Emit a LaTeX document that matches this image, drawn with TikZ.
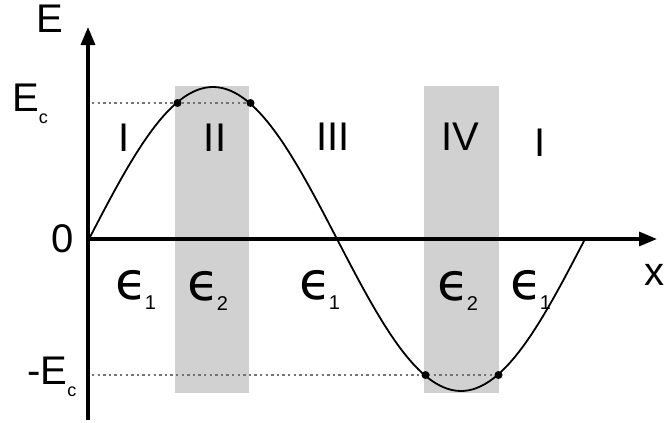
\documentclass[tikz,border=0pt]{standalone}
\usepackage{fontspec}
\setmainfont{Liberation Sans}
\newfontfamily\epsfont{DejaVu Sans}
\usepackage{tikz}
\usetikzlibrary{arrows.meta}
\newcommand{\eps}[1]{{\epsfont\fontsize{26}{28}\selectfont ϵ}\kern-1.5pt\raisebox{-5pt}{\fontsize{10}{12}\selectfont #1}}
\newcommand{\Ec}{E\raisebox{-6pt}{\fontsize{9}{11}\selectfont c}}

\begin{document}
\begin{tikzpicture}[x=0.5pt, y=-0.5pt, every node/.style={font=\fontsize{20}{24}\selectfont, inner sep=0pt},
    band/.style={fill=black!18},
    level/.style={draw=black!55, line width=0.7pt, dash pattern=on 1.2pt off 1.6pt},
    axis/.style={line width=1.6pt, -{Triangle[length=9pt, width=7pt]}},
    curve/.style={line width=0.9pt}]
      \useasboundingbox (0,0) rectangle (666,423);
      \coordinate (o) at (88,239);
      \coordinate (ytop) at (88,27);
      \coordinate (ybot) at (88,420);
      \coordinate (xend) at (657,239);
      \coordinate (p1) at (177.5,103);
      \coordinate (p2) at (250.5,103);
      \coordinate (p3) at (425.5,375);
      \coordinate (p4) at (498.5,375);
      \coordinate (l1) at (92,103);
      \coordinate (l2) at (92,375);

      % shaded bands
      \fill[band] (175,86) rectangle (249,393);
      \fill[band] (424,86) rectangle (499,393);

      \draw[level] (l1) -- (p2);
      \draw[level] (l2) -- (p4);

      \draw[axis] (ybot) -- (ytop);
      \draw[axis] (o) -- (xend);
      \draw[curve] plot[domain=89:585, samples=120] (\x, {239-152*sin((\x-89)/248*180)});

      \foreach \p in {p1,p2,p3,p4}
        \fill (\p) circle (4);

      \node (ylab) at (50,19) {E};
      \node (xlab) at (655,275) {x};
      \node (zero) at (63,239) {0};
      \node (eclab) at (30,104) {\Ec};
      \node (mecab) at (52,377) {-\Ec};

      \node (r1) at (124,138) {I};
      \node (r2) at (215,138) {II};
      \node (r3) at (333,137) {III};
      \node (r4) at (460,137) {IV};
      \node (r5) at (540,143) {I};

      \node (e1) at (136,290) {\eps{1}};
      \node (e2) at (208,291) {\eps{2}};
      \node (e3) at (320,290) {\eps{1}};
      \node (e4) at (458,291) {\eps{2}};
      \node (e5) at (531,290) {\eps{1}};
    \end{tikzpicture}
\end{document}
